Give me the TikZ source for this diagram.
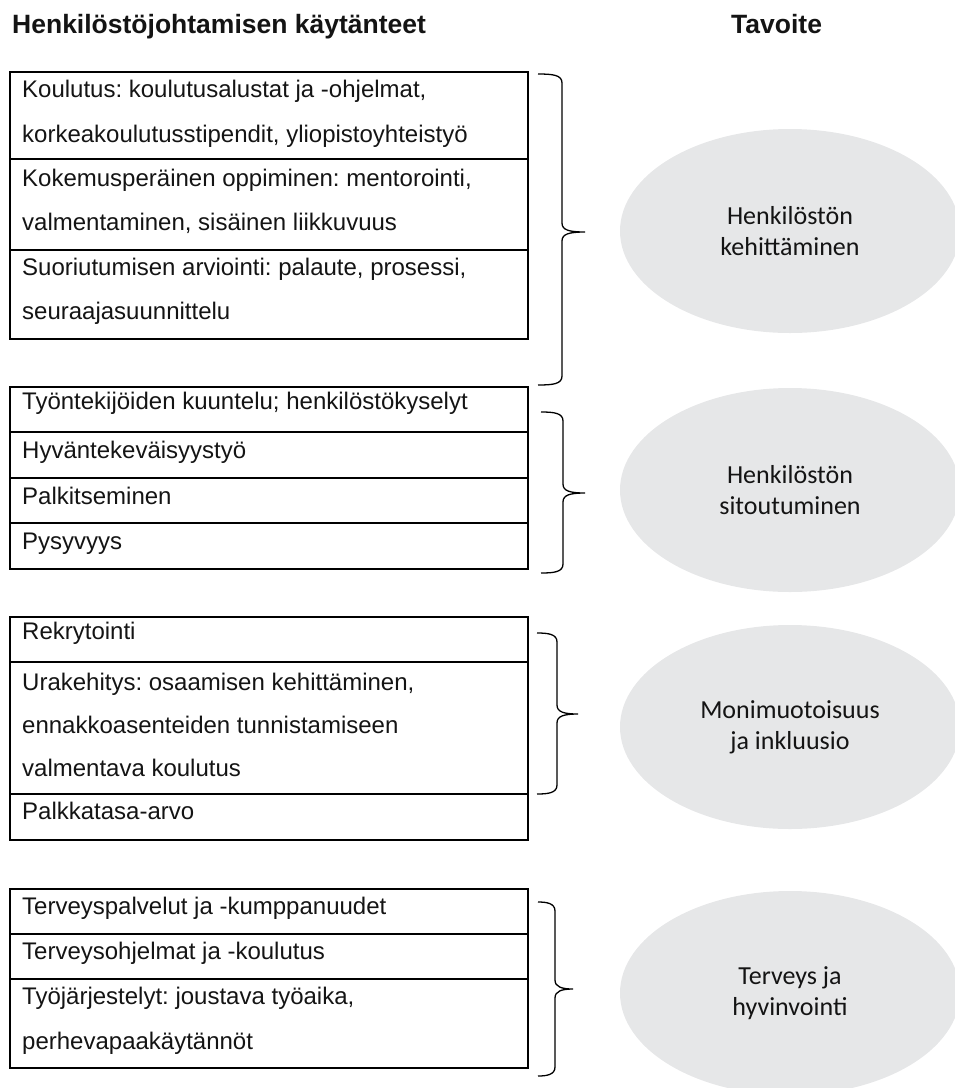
\documentclass[tikz,border=0pt]{standalone}
\usepackage{fontspec}
\setmainfont{Liberation Sans}
\newfontfamily\calibrifont{Carlito}
\usetikzlibrary{shapes.geometric}
\definecolor{goalgrey}{HTML}{E6E7E8}
\definecolor{inkcol}{HTML}{141414}
\frenchspacing
\newcommand\mybrace[6]{%
  \draw[bracestyle] (#1,#4) .. controls (#2-9,#4) and (#2,#4+1) .. (#2,#4+9)
    -- (#2,#5-9) .. controls (#2,#5-2) and (#2+7,#5) .. (#3,#5)
    .. controls (#2+7,#5) and (#2,#5+2) .. (#2,#5+9)
    -- (#2,#6-9) .. controls (#2,#6-1) and (#2-9,#6) .. (#1,#6);}
\begin{document}
\begin{tikzpicture}[x=1pt,y=-1pt,
  rowbox/.style={draw=black, line width=1.5pt, minimum width=518pt, anchor=north west, inner sep=0pt, outer sep=0pt},
  item/.style={anchor=base west, inner sep=0pt, font=\fontsize{24}{28}\selectfont, text=inkcol},
  goal/.style={ellipse, fill=goalgrey, minimum width=340pt, minimum height=204pt, inner sep=0pt, align=center, font=\calibrifont\fontsize{26}{31}\selectfont, text=inkcol},
  head/.style={anchor=base west, inner sep=0pt, font=\bfseries\fontsize{26.5}{30}\selectfont, text=inkcol},
  bracestyle/.style={draw=black, line width=1.3pt}]
\useasboundingbox (0,0) rectangle (955,1088);
\clip (0,0) rectangle (955,1088);

% headers
\node[head] (h1) at (12,33) {Henkilöstöjohtamisen käytänteet};
\node[head] (h2) at (731,33) {Tavoite};

% goals
\node[goal] (g1) at (790,231) {Henkilöstön\\kehittäminen};
\node[goal] (g2) at (790,490) {Henkilöstön\\sitoutuminen};
\node[goal] (g3) at (790,727) {Monimuotoisuus\\ja inkluusio};
\node[goal] (g4) at (790,993) {Terveys ja\\hyvinvointi};

% group 1
\node[rowbox, minimum height=87pt] (r11) at (10,72) {};
\node[rowbox, minimum height=91pt] (r12) at (10,159) {};
\node[rowbox, minimum height=89pt] (r13) at (10,250) {};
\node[item] (t11a) at (22,97) {Koulutus: koulutusalustat ja -ohjelmat,};
\node[item] (t11b) at (22,142) {korkeakoulutusstipendit, yliopistoyhteistyö};
\node[item] (t12a) at (22,186) {Kokemusperäinen oppiminen: mentorointi,};
\node[item] (t12b) at (22,230) {valmentaminen, sisäinen liikkuvuus};
\node[item] (t13a) at (22,275) {Suoriutumisen arviointi: palaute, prosessi,};
\node[item] (t13b) at (22,319) {seuraajasuunnittelu};

% group 2
\node[rowbox, minimum height=45pt] (r21) at (10,387) {};
\node[rowbox, minimum height=46pt] (r22) at (10,432) {};
\node[rowbox, minimum height=45pt] (r23) at (10,478) {};
\node[rowbox, minimum height=46pt] (r24) at (10,523) {};
\node[item] (t21) at (22,409) {Työntekijöiden kuuntelu; henkilöstökyselyt};
\node[item] (t22) at (22,458) {Hyväntekeväisyystyö};
\node[item] (t23) at (22,504) {Palkitseminen};
\node[item] (t24) at (22,549) {Pysyvyys};

% group 3
\node[rowbox, minimum height=45pt] (r31) at (10,617) {};
\node[rowbox, minimum height=132pt] (r32) at (10,662) {};
\node[rowbox, minimum height=46pt] (r33) at (10,794) {};
\node[item] (t31) at (22,639) {Rekrytointi};
\node[item] (t32a) at (22,690) {Urakehitys: osaamisen kehittäminen,};
\node[item] (t32b) at (22,733) {ennakkoasenteiden tunnistamiseen};
\node[item] (t32c) at (22,776) {valmentava koulutus};
\node[item] (t33) at (22,819) {Palkkatasa-arvo};

% group 4
\node[rowbox, minimum height=45pt] (r41) at (10,889) {};
\node[rowbox, minimum height=45pt] (r42) at (10,934) {};
\node[rowbox, minimum height=89pt] (r43) at (10,979) {};
\node[item] (t41) at (22,914) {Terveyspalvelut ja -kumppanuudet};
\node[item] (t42) at (22,959) {Terveysohjelmat ja -koulutus};
\node[item] (t43a) at (22,1004) {Työjärjestelyt: joustava työaika,};
\node[item] (t43b) at (22,1049) {perhevapaakäytännöt};

% braces
\mybrace{538}{562}{585}{74}{232}{385}
\mybrace{541}{563}{585}{412}{493}{573}
\mybrace{537}{557}{578}{633}{714}{794}
\mybrace{538}{555}{573}{902}{989}{1076}
\end{tikzpicture}
\end{document}
